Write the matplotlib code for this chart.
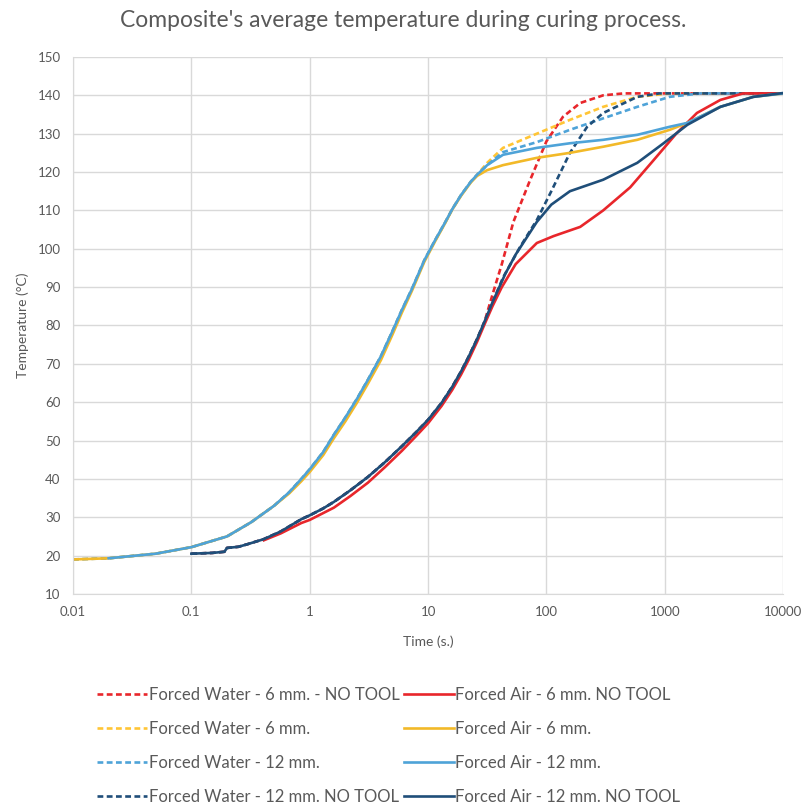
import numpy as np
import matplotlib.pyplot as plt

plt.rcParams['font.family'] = ['Lato', 'DejaVu Sans']

# shared heating path of the runs with tool (until ~26 s)
t_tool = [0.01, 0.02, 0.05, 0.1, 0.2, 0.32, 0.5, 0.67, 0.85, 1, 1.3, 1.6, 2,
          2.5, 3.1, 4, 5, 6, 7.3, 9.3, 11.5, 13.9, 16, 19, 23, 26]
v_tool = [19, 19.3, 20.5, 22.2, 25, 28.7, 33, 36.5, 40, 42.5, 47, 51.5, 56,
          60.8, 65.8, 72, 78.5, 84, 89.5, 97, 102.3, 106.8, 110.3, 114, 117.5, 119.3]
# forced air 6 mm runs a hair under the others in the middle of the rise
v_tool_a6 = [19, 19.3, 20.5, 22.2, 25, 28.7, 33, 36.2, 39.4, 41.8, 46.2, 50.6, 55,
             59.8, 64.8, 71, 77.6, 83.3, 89, 96.6, 102, 106.6, 110.2, 113.8, 117.3, 119]

# shared heating path of the runs without tool (until ~30 s)
t_notool = [0.1, 0.15, 0.19, 0.2, 0.25, 0.3, 0.41, 0.57, 0.85, 1, 1.3, 1.6,
            2.2, 3.1, 4.3, 6, 8, 10, 13, 16, 19, 22, 26, 30]
v_notool = [20.5, 20.7, 21, 22, 22.3, 23, 24.3, 26.3, 29.5, 30.5, 32.3, 34,
            37, 40.5, 44.3, 48.5, 52.3, 55.4, 59.8, 64, 68, 71.8, 76.5, 81]

# Forced water
t_w6 = [31.6, 43, 83, 158, 302, 586, 1100, 10000]
v_w6 = [122.4, 126.3, 130, 133.6, 137, 139.6, 140.5, 140.5]
t_w12 = [31.6, 43, 83, 158, 302, 586, 1100, 2000, 10000]
v_w12 = [121.8, 125.2, 127.8, 131, 134, 137, 139.6, 140.5, 140.5]
t_w6nt = [35, 42, 52.6, 73, 100, 138, 193, 302, 450, 10000]
v_w6nt = [88, 96, 107, 118, 128, 134.4, 138, 140, 140.5, 140.5]
t_w12nt = [35, 43, 60, 83, 110, 158, 221, 302, 586, 900, 10000]
v_w12nt = [86, 92.5, 100.5, 107.5, 115, 125, 131.8, 135.4, 139.6, 140.5, 140.5]

# Forced air
t_a6 = [31.6, 43, 83, 158, 302, 586, 1100, 1550, 2950, 5600, 10000]
v_a6 = [120.5, 121.8, 123.7, 125, 126.6, 128.4, 131, 132.8, 137, 139.6, 140.5]
t_a12 = [31.6, 43, 83, 158, 302, 586, 1100, 1550, 2950, 5600, 10000]
v_a12 = [121.8, 124.5, 126.3, 127.5, 128.4, 129.7, 131.8, 132.8, 137, 139.6, 140.5]
t_a6nt = [0.41, 0.57, 0.85, 1, 1.6, 2.2, 3.1, 4.3, 6, 8, 10, 13, 16, 19, 22,
          26, 30, 35, 42, 55, 83, 115, 193, 302, 510, 800, 1250, 1870, 2950,
          4600, 10000]
v_a6nt = [24, 25.8, 28.5, 29.3, 32.5, 35.5, 39, 43, 47.3, 51.3, 54.5, 59,
          63.2, 67.2, 71, 75.8, 80.3, 85, 90, 96, 101.5, 103.3, 105.7, 110,
          116, 123, 130, 135.4, 138.8, 140.5, 140.5]
t_a12nt = [35, 40, 45, 55, 83, 110, 158, 302, 586, 977, 1550, 2950, 5600, 10000]
v_a12nt = [86, 90, 93.5, 98.5, 107, 111.5, 115, 118, 122.4, 127.5, 132.3,
           137, 139.6, 140.6]

red = '#E8262B'
gold = '#F2B928'
gold_d = '#FFC535'
blue = '#4EA3D8'
navy = '#1F4E79'
grey = '#595959'

fig = plt.figure(figsize=(8.06, 8.08), dpi=100)
ax = fig.add_axes([0.0906, 0.2649, 0.881, 0.6646])

lw = 1.9
dash = (0, (2.2, 1.3))

water = [
    ('Forced Water - 6 mm. - NO TOOL', t_notool + t_w6nt, v_notool + v_w6nt, red),
    ('Forced Water - 6 mm.', t_tool + t_w6, v_tool + v_w6, gold_d),
    ('Forced Water - 12 mm.', t_tool + t_w12, v_tool + v_w12, blue),
    ('Forced Water - 12 mm. NO TOOL', t_notool + t_w12nt, v_notool + v_w12nt, navy),
]
air = [
    ('Forced Air - 6 mm. NO TOOL', t_a6nt, v_a6nt, red),
    ('Forced Air - 6 mm.', t_tool + t_a6, v_tool_a6 + v_a6, gold),
    ('Forced Air - 12 mm.', t_tool[1:] + t_a12, v_tool[1:] + v_a12, blue),
    ('Forced Air - 12 mm. NO TOOL', t_notool + t_a12nt, v_notool + v_a12nt, navy),
]

handles = []
for label, t, v, c in water:
    h, = ax.plot(t, v, color=c, lw=lw, linestyle=dash, label=label)
    handles.append(h)
for label, t, v, c in air:
    h, = ax.plot(t, v, color=c, lw=lw, label=label)
    handles.append(h)

ax.set_xscale('log')
ax.set_xlim(0.01, 10000)
ax.set_ylim(10, 150)
ax.set_xticks([0.01, 0.1, 1, 10, 100, 1000, 10000],
              ['0.01', '0.1', '1', '10', '100', '1000', '10000'])
ax.minorticks_off()
ax.set_yticks(np.arange(10, 151, 10))
ax.grid(True, color='#D9D9D9', lw=1)
ax.set_axisbelow(True)
for s in ['top', 'right']:
    ax.spines[s].set_visible(False)
for s in ['left', 'bottom']:
    ax.spines[s].set_color('#D9D9D9')
ax.tick_params(length=0, labelsize=9.5, labelcolor=grey, pad=9)

ax.set_xlabel('Time (s.)', fontsize=10, color=grey, labelpad=12)
ax.set_ylabel('Temperature (°C)', fontsize=10, color=grey, labelpad=6)
fig.text(0.5, 0.975, "Composite's average temperature during curing process.",
         fontsize=16.5, color=grey, ha='center', va='center')

fig.legend(handles=handles, ncol=2, loc='upper left', bbox_to_anchor=(0.102, 0.168),
           frameon=False, fontsize=12, labelcolor=grey, handlelength=3.0,
           handletextpad=0.1, columnspacing=0.25, labelspacing=1.08)

fig.savefig('out.png', dpi=100)
